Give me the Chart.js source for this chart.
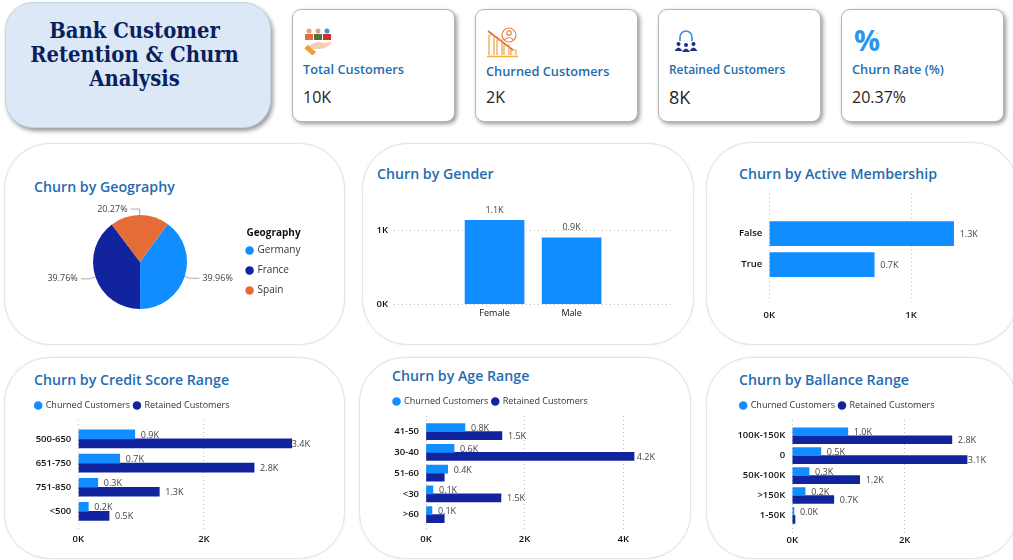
<!DOCTYPE html>
<html>
<head>
<meta charset="utf-8">
<title>Bank Customer Retention & Churn Analysis</title>
<script src="https://cdn.jsdelivr.net/npm/chart.js@4"></script>
<style>
html, body { margin: 0; padding: 0; background: #fff; overflow: hidden; }
body { width: 1013px; height: 560px; position: relative; font-family: "Open Sans", sans-serif; }
.box { position: absolute; box-sizing: border-box; background: #fff; }
.head { left: 5px; top: 2px; width: 266px; height: 126px; border-radius: 28px; background: #dce8f5;
  border: 1px solid #c6d3e0; box-shadow: 2px 3px 4px rgba(0,0,0,.4);
  font: bold 21.8px/24px "DejaVu Serif Condensed", "Liberation Serif", serif; color: #0b1f5e; text-align: center; padding: 16px 7px 0 0; }
.kpi { top: 9px; width: 163px; height: 113px; border-radius: 9px; border: 1px solid #b5b5b5; box-shadow: 2px 2px 4px rgba(0,0,0,.4); }
.kpi .name { position: absolute; left: 10px; font-size: 12.8px; font-weight: 600; color: #1f6cb0; white-space: nowrap; }
.kpi .val { position: absolute; left: 10px; font-size: 16px; font-weight: 500; color: #252423; white-space: nowrap; }
.kpi svg { position: absolute; }
.panel { border-radius: 46px; border: 1px solid #e4e4e4; box-shadow: 0 0 2px rgba(0,0,0,.1); }
.panel h2 { position: absolute; margin: 0; font-size: 14.2px; font-weight: 600; color: #1f6cb0; white-space: nowrap; }
.panel canvas { position: absolute; left: 0; top: 0; }
</style>
</head>
<body>
<div class="box head">Bank Customer<br>Retention &amp; Churn<br>Analysis</div>

<div class="box kpi" style="left:292px">
  <svg style="left:11px;top:17px" width="30" height="28" viewBox="0 0 30 28">
    <circle cx="5" cy="4" r="2.5" fill="#e9a27a"/><rect x="1" y="7" width="8" height="6" fill="#e2703a"/>
    <circle cx="14" cy="4" r="2.5" fill="#d9a184"/><rect x="10" y="7" width="8" height="6" fill="#5c6b3c"/>
    <circle cx="23" cy="4" r="2.5" fill="#3f8fdc"/><rect x="19" y="7" width="8" height="6" fill="#c8332f"/>
    <path d="M5 19 Q13 13 20 16 L28 15 Q24 21 16 22 L9 22 Z" fill="#f7cdb4"/>
    <rect x="2" y="19" width="5" height="11" fill="#f0a030" transform="rotate(-48 4 22)"/>
  </svg>
  <div class="name" style="top:50px">Total Customers</div>
  <div class="val" style="top:76px">10K</div>
</div>
<div class="box kpi" style="left:475px">
  <svg style="left:10px;top:16px" width="34" height="33" viewBox="0 0 34 33" fill="none" stroke="#e8824a" stroke-width="1.2">
    <circle cx="23" cy="9" r="7"/><circle cx="23" cy="7" r="2.3"/><path d="M18.5 14 Q23 9 27.5 14"/>
    <path d="M2 5 L27 24" stroke="#e0603a" stroke-width="1.6"/>
    <path d="M3 29 V9 H8 V29 M11 29 V14 H16 V29 M18 29 V19 H23 V29 M25 29 V24 H30 V29" stroke="#f0a040"/>
    <path d="M1 30.5 H32" stroke="#f5b040" stroke-width="1.6"/>
  </svg>
  <div class="name" style="top:52px">Churned Customers</div>
  <div class="val" style="top:76px">2K</div>
</div>
<div class="box kpi" style="left:658px">
  <svg style="left:15px;top:19px" width="24" height="24" viewBox="0 0 24 24">
    <path d="M6 12 V8 A6 6 0 0 1 18 8 V12" fill="none" stroke="#3f8fdc" stroke-width="1.7"/>
    <g fill="#1a2f86">
      <circle cx="4.5" cy="15" r="2"/><path d="M0.5 22 Q4.5 15 8.5 22 Z"/>
      <circle cx="12" cy="16" r="2"/><path d="M8 23 Q12 16 16 23 Z"/>
      <circle cx="19.5" cy="15" r="2"/><path d="M15.5 22 Q19.5 15 23.5 22 Z"/>
    </g>
  </svg>
  <div class="name" style="top:51px;font-size:11.9px">Retained Customers</div>
  <div class="val" style="top:75px;font-size:18px">8K</div>
</div>
<div class="box kpi" style="left:841px">
  <div style="position:absolute;left:12px;top:10px;font:bold 29px 'Open Sans',sans-serif;color:#2b95ea">%</div>
  <div class="name" style="top:50px">Churn Rate (%)</div>
  <div class="val" style="top:76px">20.37%</div>
</div>

<div class="box panel" style="left:4px;top:143px;width:341px;height:202px"><h2 style="left:29px;top:33px">Churn by Geography</h2><canvas id="geoChart"></canvas></div>
<div class="box panel" style="left:362px;top:143px;width:332px;height:202px"><h2 style="left:14px;top:20px">Churn by Gender</h2><canvas id="genderChart"></canvas></div>
<div class="box panel" style="left:706px;top:142px;width:312px;height:203px"><h2 style="left:32px;top:21px">Churn by Active Membership</h2><canvas id="activeChart"></canvas></div>
<div class="box panel" style="left:4px;top:357px;width:341px;height:202px"><h2 style="left:29px;top:12px">Churn by Credit Score Range</h2><canvas id="creditChart"></canvas></div>
<div class="box panel" style="left:359px;top:357px;width:332px;height:202px"><h2 style="left:32px;top:8px">Churn by Age Range</h2><canvas id="ageChart"></canvas></div>
<div class="box panel" style="left:706px;top:357px;width:312px;height:202px"><h2 style="left:32px;top:12px">Churn by Ballance Range</h2><canvas id="balanceChart"></canvas></div>

<script>
// Values, customers in thousands
var GeoNames = ["Germany","France","Spain"];
var GeoShare = [39.96,39.76,20.27];

var Genders = ["Female","Male"];
var GenderChurn = [1.14,0.90];

var Active = ["False","True"];
var ActiveChurn = [1.30,0.74];

var CreditRanges = ["500-650","651-750","751-850","<500"];
var CreditChurn = [0.90,0.66,0.31,0.16];
var CreditKept = [3.40,2.80,1.29,0.49];

var AgeRanges = ["41-50","30-40","51-60","<30",">60"];
var AgeChurn = [0.79,0.57,0.44,0.14,0.12];
var AgeKept = [1.54,4.22,0.37,1.52,0.37];

var BalanceRanges = ["100K-150K","0","50K-100K",">150K","1-50K"];
var BalanceChurn = [0.99,0.51,0.30,0.23,0.03];
var BalanceKept = [2.84,3.11,1.20,0.74,0.05];

var Blue = "#118dff";
var Navy = "#12239e";
var Orange = "#e66c37";
var Grid = "#bdbdbd";
var Sans = "'Open Sans', sans-serif";

Chart.defaults.animation = false;
Chart.defaults.font.family = Sans;
Chart.defaults.font.size = 9;
Chart.defaults.plugins.tooltip.enabled = false;

function kTick(v) { return v + "K"; }

// value labels next to each bar, drawn under the bars like the original
var barLabels = {
  id: "barLabels",
  beforeDatasetsDraw: function(chart, args, opts) {
    var ctx = chart.ctx, area = chart.chartArea;
    ctx.save();
    ctx.font = "9px " + Sans;
    ctx.fillStyle = "#444";
    ctx.textBaseline = "middle";
    chart.data.datasets.forEach(function(ds, d) {
      chart.getDatasetMeta(d).data.forEach(function(bar, i) {
        if (opts.skip && opts.skip.indexOf(d + ":" + i) >= 0) return;
        var txt = ds.data[i].v.toFixed(1) + "K";
        var w = ctx.measureText(txt).width;
        if (opts.above) {
          ctx.textAlign = "center";
          ctx.fillText(txt, bar.x, bar.y - 10);
        } else {
          ctx.textAlign = "left";
          ctx.fillText(txt, Math.min(bar.x + 6, area.right - w), bar.y + 1);
        }
      });
    });
    ctx.restore();
  }
};

// percent labels with elbow leader lines for the pie
var pieLabels = {
  id: "pieLabels",
  afterDatasetsDraw: function(chart) {
    var ctx = chart.ctx;
    ctx.save();
    ctx.font = "9px " + Sans;
    ctx.textBaseline = "middle";
    chart.getDatasetMeta(0).data.forEach(function(arc, i) {
      var mid = (arc.startAngle + arc.endAngle) / 2;
      var x0 = arc.x + arc.outerRadius * Math.cos(mid), y0 = arc.y + arc.outerRadius * Math.sin(mid);
      var x1 = arc.x + (arc.outerRadius + 6) * Math.cos(mid), y1 = arc.y + (arc.outerRadius + 6) * Math.sin(mid);
      var dir = Math.cos(mid) >= 0 ? 1 : -1;
      ctx.strokeStyle = "#999";
      ctx.lineWidth = 0.8;
      ctx.beginPath();
      ctx.moveTo(x0, y0);
      ctx.lineTo(x1, y1);
      ctx.lineTo(x1 + dir * 9, y1);
      ctx.stroke();
      ctx.fillStyle = "#444";
      ctx.textAlign = dir > 0 ? "left" : "right";
      ctx.fillText(GeoShare[i].toFixed(2) + "%", x1 + dir * 12, y1);
    });
    ctx.restore();
  }
};

function points(cats, vals, horizontal) {
  return cats.map(function(c, i) {
    return horizontal ? {x: vals[i], y: i, v: vals[i]} : {x: i, y: vals[i], v: vals[i]};
  });
}

// index axis is linear so the row pitch stays fixed whatever the plot height
function indexAxis(cats, min, max, reverse, font, color, pad) {
  return {
    type: "linear", min: min, max: max, reverse: reverse, offset: false,
    grid: {display: false, drawTicks: false}, border: {display: false},
    afterBuildTicks: function(s) { s.ticks = cats.map(function(c, i) { return {value: i}; }); },
    ticks: {
      callback: function(v) { return cats[v]; }, autoSkip: false, maxRotation: 0,
      padding: pad, color: color, font: font
    }
  };
}

function valueAxis(min, max, step, pad) {
  return {
    min: min, max: max,
    border: {display: false, dash: [1, 3]},
    grid: {color: Grid, drawTicks: false, lineWidth: 1},
    ticks: {stepSize: step, includeBounds: false, callback: kTick, color: "#111", font: {size: 9.5, weight: "600"}, padding: pad, maxRotation: 0}
  };
}

function hbars(id, cats, sets, o) {
  var y = indexAxis(cats, o.rowMin, o.rowMax, true, {size: 9.5, weight: "600"}, "#111", 7);
  y.afterFit = function(s) { s.width = o.axisW; };
  var x = valueAxis(0, o.max, o.step, o.tickPad);
  return new Chart(document.getElementById(id), {
    type: "bar",
    data: {datasets: sets.map(function(s) {
      return {label: s.label, data: points(cats, s.data, true), backgroundColor: s.color, barThickness: o.bar};
    })},
    options: {
      indexAxis: "y", responsive: false,
      scales: {x: x, y: y},
      layout: {padding: o.pad},
      plugins: {
        barLabels: {skip: o.skip},
        legend: {
          display: sets.length > 1, position: "top", align: "start",
          labels: {usePointStyle: true, pointStyle: "circle", boxWidth: 6, boxHeight: 6, padding: 4, color: "#333", font: {size: 9}}
        }
      }
    },
    plugins: [barLabels, {
      id: "legendRoom",
      beforeInit: function(chart) {
        chart.legend.afterFit = function() { if (o.legendH) this.height = o.legendH; };
      }
    }]
  });
}

function graphGeo() {
  new Chart(document.getElementById("geoChart"), {
    type: "pie",
    data: {labels: GeoNames, datasets: [{data: GeoShare, backgroundColor: [Blue, Navy, Orange], borderWidth: 0}]},
    options: {
      responsive: false, rotation: 36,
      layout: {padding: {left: 38.5, top: 71, bottom: 35, right: 33.5}},
      plugins: {
        legend: {
          position: "right",
          title: {display: true, text: "Geography", color: "#111", font: {size: 10, weight: "bold"}, padding: {top: 10, bottom: -5}},
          labels: {usePointStyle: true, pointStyle: "circle", boxWidth: 6, boxHeight: 6, padding: 10, color: "#333", font: {size: 10}}
        }
      }
    },
    plugins: [pieLabels]
  });
}

function graphGender() {
  var x = indexAxis(Genders, -1.305, 2.29, false, {size: 9}, "#111", 4);
  var y = valueAxis(0, 1.347, 1, 6);
  y.afterFit = function(s) { s.width = 31; };
  new Chart(document.getElementById("genderChart"), {
    type: "bar",
    data: {datasets: [{data: points(Genders, GenderChurn, false), backgroundColor: Blue, barThickness: 59}]},
    options: {
      responsive: false,
      scales: {x: x, y: y},
      layout: {padding: {left: 0, right: 22, top: 61, bottom: 21}},
      plugins: {legend: {display: false}, barLabels: {above: true}}
    },
    plugins: [barLabels]
  });
}

function graphs() {
  graphGeo();
  graphGender();
  hbars("activeChart", Active, [{label: "Churned Customers", data: ActiveChurn, color: Blue}],
    {rowMin: -1.29, rowMax: 2.19, step: 1, max: 1.5, bar: 24, axisW: 62.3, tickPad: 7.7, pad: {top: 50.7, right: 35, bottom: 15.6, left: 0}});
  var churned = "Churned Customers", kept = "Retained Customers";
  hbars("creditChart", CreditRanges, [{label: churned, data: CreditChurn, color: Blue}, {label: kept, data: CreditKept, color: Navy}],
    {rowMin: -0.785, rowMax: 3.86, step: 2, max: 3.69, bar: 9, axisW: 47.1, tickPad: 1.5, legendH: 27.7, pad: {top: 39, right: 34, bottom: 11.5, left: 26.2}});
  hbars("ageChart", AgeRanges, [{label: churned, data: AgeChurn, color: Blue}, {label: kept, data: AgeKept, color: Navy}],
    {rowMin: -0.75, rowMax: 4.8, step: 2, max: 4.645, bar: 8, axisW: 36.5, tickPad: 2, legendH: 29.8, pad: {top: 35, right: 35, bottom: 11.3, left: 29.5}, skip: ["1:2", "1:4"]});
  hbars("balanceChart", BalanceRanges, [{label: churned, data: BalanceChurn, color: Blue}, {label: kept, data: BalanceKept, color: Navy}],
    {rowMin: -0.79, rowMax: 4.9, step: 2, max: 3.447, bar: 8, axisW: 56, tickPad: 1, legendH: 30, pad: {top: 39, right: 31, bottom: 11.3, left: 29.2}, skip: ["1:4"]});
}

// canvas sizes follow their panels
document.querySelectorAll(".panel canvas").forEach(function(c) {
  c.width = c.parentNode.clientWidth;
  c.height = c.parentNode.clientHeight;
});
graphs();
</script>
</body>
</html>
